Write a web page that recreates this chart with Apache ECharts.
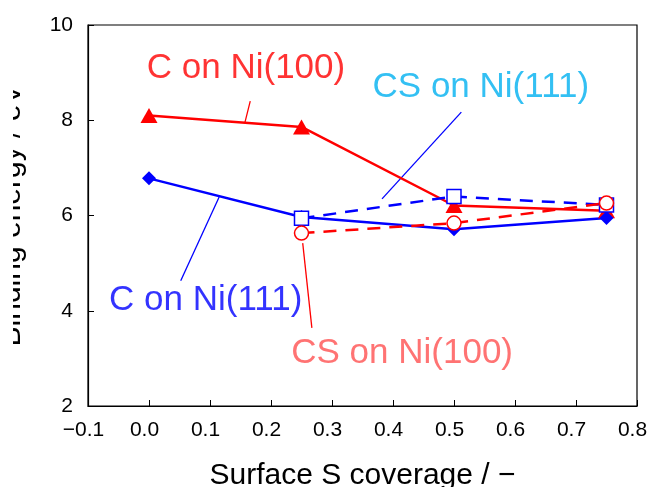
<!DOCTYPE html>
<html>
<head>
<meta charset="utf-8">
<script src="https://cdn.jsdelivr.net/npm/echarts@6/dist/echarts.min.js"></script>
<style>
  html, body { margin: 0; padding: 0; background: #fff; }
  #chart { width: 649px; height: 487px; }
</style>
</head>
<body>
<div id="chart"></div>
<script>
// Binding energy of C and CS on Ni surfaces vs. surface S coverage
var coverage = [0, 0.25, 0.5, 0.75];
var cNi100  = [8.10, 7.86, 6.21, 6.10];
var cNi111  = [6.78, 5.97, 5.71, 5.95];
var csNi111 = [null, 5.94, 6.40, 6.22];
var csNi100 = [null, 5.63, 5.84, 6.26];

var xTicks = ['−0.1', '0.0', '0.1', '0.2', '0.3', '0.4', '0.5', '0.6', '0.7', '0.8'];
var yTicks = [2, 4, 6, 8, 10];

// Annotation labels: text and centre position in data units
var labelNames = ['C on Ni(100)', 'CS on Ni(111)', 'C on Ni(111)', 'CS on Ni(100)'];
var labelX = [0.159, 0.544, 0.093, 0.415];
var labelY = [9.08, 8.70, 4.21, 3.11];
// Leader lines from each label to its curve: [x1, y1, x2, y2] in data units
var leaderC100  = [0.166, 8.40, 0.157, 7.94];
var leaderCS111 = [0.512, 8.17, 0.382, 6.35];
var leaderC111  = [0.115, 6.39, 0.052, 4.63];
var leaderCS100 = [0.252, 5.42, 0.267, 3.64];

var RED = '#ff0000', BLUE = '#0000ff';
var labelColors = [RED, '#00b0f0', BLUE, '#ff5050'];
var leaderColors = [RED, BLUE, BLUE, RED];

function pairs(xs, ys) {
  var out = [];
  for (var i = 0; i < xs.length; i++) {
    if (ys[i] !== null) out.push([xs[i], ys[i]]);
  }
  return out;
}

var FONT = '"Liberation Sans", Arial, sans-serif';

var series = [
  {
    name: 'C on Ni(100)', type: 'line', data: pairs(coverage, cNi100),
    symbol: 'triangle', symbolSize: [17, 15], z: 3,
    lineStyle: { color: RED, width: 2.5 }, itemStyle: { color: RED }
  },
  {
    name: 'C on Ni(111)', type: 'line', data: pairs(coverage, cNi111),
    symbol: 'diamond', symbolSize: 14, z: 3,
    lineStyle: { color: BLUE, width: 2.5 }, itemStyle: { color: BLUE }
  },
  {
    name: 'CS on Ni(111)', type: 'line', data: pairs(coverage, csNi111),
    symbol: 'rect', symbolSize: 14, z: 4,
    lineStyle: { color: BLUE, width: 2.5, type: [13, 9] },
    itemStyle: { color: '#fff', borderColor: BLUE, borderWidth: 1.5 }
  },
  {
    name: 'CS on Ni(100)', type: 'line', data: pairs(coverage, csNi100),
    symbol: 'circle', symbolSize: 14, z: 4,
    lineStyle: { color: RED, width: 2.5, type: [13, 9] },
    itemStyle: { color: '#fff', borderColor: RED, borderWidth: 1.5 }
  }
];

[leaderC100, leaderCS111, leaderC111, leaderCS100].forEach(function (l, i) {
  series.push({
    type: 'line', silent: true, showSymbol: false, symbol: 'none', z: 2,
    data: [[l[0], l[1]], [l[2], l[3]]],
    lineStyle: { color: leaderColors[i], width: 1.3 }
  });
});

series.push({
  type: 'scatter', silent: true, symbolSize: 0, z: 5,
  data: labelNames.map(function (n, i) {
    return {
      value: [labelX[i], labelY[i]],
      label: {
        show: true, position: 'inside', formatter: n,
        color: labelColors[i], fontSize: 35, fontFamily: FONT
      }
    };
  })
});

var chart = echarts.init(document.getElementById('chart'), null, { renderer: 'canvas' });
chart.setOption({
  animation: false,
  backgroundColor: '#fff',
  grid: {
    left: 88, right: 12, top: 25, bottom: 81,
    outerBoundsMode: 'none', containLabel: false,
    show: true, borderColor: '#000', borderWidth: 1.2, backgroundColor: 'transparent'
  },
  xAxis: {
    type: 'value', min: -0.1, max: 0.8, interval: 0.1,
    name: 'Surface S coverage / −', nameLocation: 'middle', nameGap: 55,
    nameTextStyle: { color: '#000', fontSize: 30, fontFamily: FONT },
    axisLine: { onZero: false, lineStyle: { color: '#000', width: 1.2 } },
    axisTick: { inside: true, length: 6, lineStyle: { color: '#000' } },
    splitLine: { show: false },
    axisLabel: {
      color: '#000', fontSize: 21, fontFamily: FONT, margin: 14,
      padding: [0, 9, 0, 0],
      formatter: function (v) { return xTicks[Math.round((v + 0.1) * 10)]; }
    }
  },
  yAxis: {
    type: 'value', min: yTicks[0], max: yTicks[yTicks.length - 1], interval: 2,
    name: 'Binding energy / eV', nameLocation: 'middle', nameGap: 61, nameRotate: 90,
    nameTextStyle: { color: '#000', fontSize: 30, fontFamily: FONT },
    axisLine: { onZero: false, lineStyle: { color: '#000', width: 1.2 } },
    axisTick: { inside: true, length: 6, lineStyle: { color: '#000' } },
    splitLine: { show: false },
    axisLabel: { color: '#000', fontSize: 21, fontFamily: FONT, margin: 15 }
  },
  graphic: [{
    type: 'rect', left: 0, top: 40, z: 100,
    shape: { width: 13, height: 360 },
    style: { fill: '#fff' }
  }],
  series: series
});
</script>
</body>
</html>
